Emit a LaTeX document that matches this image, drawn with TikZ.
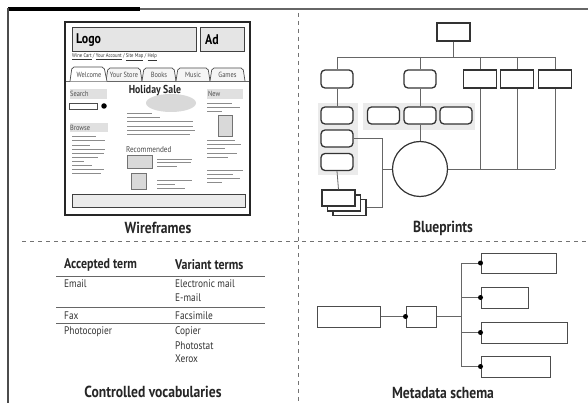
\documentclass[tikz,border=0pt]{standalone}
\usepackage{fontspec}
\setmainfont{PT Sans}[FakeStretch=0.85]
\begin{document}
\begin{tikzpicture}[x=1pt,y=-1pt,
  frame/.style={draw=black!70, line width=1.6pt},
  divider/.style={draw=black!55, line width=0.9pt, dash pattern=on 4pt off 4pt},
  conn/.style={draw=black!60, line width=0.8pt},
  bpbox/.style={draw=black!80, line width=1.3pt, fill=white, rectangle, inner sep=0pt},
  rbox/.style={bpbox, rounded corners=4pt},
  mbox/.style={draw=black!70, line width=1pt, fill=white, rectangle, inner sep=0pt},
  dot/.style={circle, fill=black, inner sep=0pt, minimum size=5pt},
  title/.style={font=\bfseries\fontsize{16}{18}\selectfont, text=black!85},
  wline/.style={draw=black!45, line width=0.7pt},
  wgray/.style={fill=black!12},
  wlabel/.style={font=\fontsize{7.5}{8}\selectfont, text=black!70, anchor=west, inner sep=0pt},
  vtext/.style={font=\fontsize{11}{12}\selectfont, text=black!80, anchor=west, inner sep=0pt},
  vhead/.style={font=\bfseries\fontsize{14}{16}\selectfont, text=black!85, anchor=west, inner sep=0pt}
]
\useasboundingbox (0,0) rectangle (588,403);
\fill[white] (0,0) rectangle (588,403);
% frame
\draw[draw=black!60, line width=1.4pt] (140,9) -- (588,9);
\draw[draw=black, line width=3.5pt] (8,9) -- (140,9);
\draw[frame] (8,8) -- (8,403);
% dividers
\draw[divider] (298,13) -- (298,403);
\draw[divider] (22,241) -- (588,241);

% ===== Wireframe =====
\draw[draw=black!85, line width=1.8pt, fill=white] (65,22) rectangle (250,215);
\draw[draw=black!75, line width=1pt, fill=black!10] (72,28) rectangle (196,52);
\draw[draw=black!75, line width=1pt, fill=black!10] (200,28) rectangle (244,52);
\node[font=\bfseries\fontsize{14}{16}\selectfont, anchor=west, inner sep=0pt] (logo) at (76,40) {Logo};
\node[font=\bfseries\fontsize{14}{16}\selectfont, anchor=west, inner sep=0pt] (ad) at (205,40) {Ad};
\node[font=\fontsize{5.5}{6}\selectfont, anchor=west, inner sep=0pt, text=black!80] (links) at (72,57) {\underline{Wine Cart} / \underline{Your Account} / \underline{Site Map} / \underline{Help}};
% tabs
\draw[draw=black!60, line width=0.7pt] (66,81) -- (249,81);
\foreach \a/\b/\t in {106/142/Your Store,142/176/Books,176/210/Music,210/245/Games}{
  \draw[draw=black!70, line width=0.7pt, fill=black!4, rounded corners=2pt] (\a,81) -- (\a+2,68) -- (\b-2,68) -- (\b,81);
  \node[font=\fontsize{7.5}{8}\selectfont, text=black!70] at ({(\a+\b)/2},74.5) {\t};
}
\draw[draw=black!70, line width=0.7pt, fill=white, rounded corners=2pt] (70,81.3) -- (72,67) -- (104,67) -- (107,81.3);
\node[font=\fontsize{7.5}{8}\selectfont, text=black!70] (welcome) at (89,74.5) {Welcome};
% left column
\fill[wgray] (70,89) rectangle (107,99);
\node[wlabel] (search) at (70,94) {Search};
\draw[draw=black!70, line width=0.7pt] (69,103) rectangle (97,109);
\node[dot, minimum size=5.5pt] (sdot) at (104,106) {};
\fill[wgray] (70,123) rectangle (108,132);
\node[wlabel] (browse) at (70,127.5) {Browse};
\foreach \y/\e in {136/96,140/105,145/90,149/105,153/104,157/98,161/84,165/92,169/104,173/101}{
  \draw[wline] (72,\y) -- (\e,\y);
}
% center column
\fill[black!15] (171,103) ellipse (25 and 9);
\node[font=\bfseries\fontsize{11.5}{13}\selectfont, text=black!85] (sale) at (155,91) {Holiday Sale};
\foreach \y/\e in {113/152,117/160,121/193,126/193,130/195,134/190}{
  \draw[wline] (127,\y) -- (\e,\y);
}
\node[wlabel, font=\fontsize{8.5}{9}\selectfont] (rec) at (126,150) {Recommended};
\draw[draw=black!55, line width=0.7pt, fill=black!15] (127,155) rectangle (152,168);
\draw[draw=black!55, line width=0.7pt, fill=black!15] (131,173) rectangle (146,189);
\foreach \y/\e in {159/192,162/191,166/177,180/192,184/175,188/185}{
  \draw[wline] (157,\y) -- (\e,\y);
}
% right column
\fill[wgray] (207,89) rectangle (243,99);
\node[wlabel] (new) at (208,94) {New};
\foreach \y/\e in {103/232,107/240,111/222,140/235,144/241,148/225,153/237,157/228,170/243,174/233,178/240,182/222}{
  \draw[wline] (207,\y) -- (\e,\y);
}
\draw[draw=black!55, line width=0.7pt, fill=black!15] (218,115) rectangle (232,136);
% bottom bar
\draw[draw=black!75, line width=1pt, fill=black!8] (72,195) rectangle (245,208);
\node[title] (wtitle) at (158,228) {Wireframes};

% ===== Blueprints =====
\fill[black!8] (318,103) rectangle (358,175);
\fill[black!8] (363,103) rectangle (475,130);
\node[bpbox, minimum width=33pt, minimum height=18pt] (top) at (453.5,32) {};
\coordinate (busL) at (337,57);
\coordinate (busR) at (555,57);
\node[rbox, minimum width=32pt, minimum height=18pt] (rb1) at (337,79) {};
\node[rbox, minimum width=32pt, minimum height=18pt] (rb2) at (420,79) {};
\node[bpbox, minimum width=33pt, minimum height=18pt] (r3) at (480,79) {};
\node[bpbox, minimum width=33pt, minimum height=18pt] (r4) at (517,79) {};
\node[bpbox, minimum width=33pt, minimum height=18pt] (r5) at (555,79) {};
\node[rbox, minimum width=32pt, minimum height=17pt] (c1) at (337,115.5) {};
\node[rbox, minimum width=32pt, minimum height=17pt] (c2) at (337,138.5) {};
\node[rbox, minimum width=32pt, minimum height=17pt] (c3) at (337,162) {};
\node[rbox, minimum width=32pt, minimum height=17pt] (m1) at (383.5,115.5) {};
\node[rbox, minimum width=32pt, minimum height=17pt] (m2) at (420,115.5) {};
\node[rbox, minimum width=32pt, minimum height=17pt] (m3) at (456,115.5) {};
\node[circle, draw=black!80, line width=1.2pt, fill=white, minimum size=55pt, inner sep=0pt] (circ) at (420,169) {};
\node[bpbox, line width=1.1pt, minimum width=33pt, minimum height=16pt] (d3) at (349.5,207.5) {};
\node[bpbox, line width=1.1pt, minimum width=33pt, minimum height=16pt] (d2) at (344,203) {};
\node[bpbox, line width=1.1pt, minimum width=33pt, minimum height=16pt] (d1) at (338.5,198) {};
\draw[conn] (top.south) -- (top.south |- busL);
\draw[conn] (busL) -- (busR);
\draw[conn] (busL) -- (rb1.north);
\draw[conn] (rb2.north |- busL) -- (rb2.north);
\draw[conn] (r3.north |- busL) -- (r3.north);
\draw[conn] (r4.north |- busL) -- (r4.north);
\draw[conn] (r5.north |- busL) -- (r5.north);
\draw[conn] (rb1.south) -- (c1.north);
\draw[conn] (c3.south) -- (d1.north);
\draw[conn] (rb2.south) -- (m2.north);
\draw[conn] (m2.south) -- (circ.north);
\draw[conn] (circ.east) -- (r5.south |- circ.east);
\draw[conn] (r3.south) -- (r3.south |- circ.east);
\draw[conn] (r4.south) -- (r4.south |- circ.east);
\draw[conn] (r5.south) -- (r5.south |- circ.east);
\coordinate (jx) at (382,139);
\draw[conn] (c2.east) -- (c2.east -| jx) -- (jx |- d3.east) -- (d3.east);
\draw[conn] (jx |- circ.west) -- (circ.west);
\node[title] (btitle) at (443,228) {Blueprints};

% ===== Controlled vocabularies =====
\node[vhead] (h1) at (64,265) {Accepted term};
\node[vhead] (h2) at (175,265) {Variant terms};
\draw[draw=black!60, line width=0.8pt] (56,276) -- (265,276);
\node[vtext] (e1) at (64,283.5) {Email};
\node[vtext] (e2) at (175,283.5) {Electronic mail};
\node[vtext] (e3) at (175,298) {E-mail};
\draw[draw=black!60, line width=0.8pt] (56,307) -- (265,307);
\node[vtext] (f1) at (64,316) {Fax};
\node[vtext] (f2) at (175,316) {Facsimile};
\draw[draw=black!60, line width=0.8pt] (56,323.5) -- (265,323.5);
\node[vtext] (p1) at (64,332) {Photocopier};
\node[vtext] (p2) at (175,332) {Copier};
\node[vtext] (p3) at (175,345.5) {Photostat};
\node[vtext] (p4) at (175,359) {Xerox};
\node[title] (ctitle) at (153,392) {Controlled vocabularies};

% ===== Metadata schema =====
\node[mbox, minimum width=63pt, minimum height=21pt] (ml) at (348.5,316.5) {};
\node[mbox, minimum width=30pt, minimum height=21pt] (ms) at (421,316.5) {};
\node[mbox, minimum width=75pt, minimum height=20pt] (b1) at (518.5,263) {};
\node[mbox, minimum width=47pt, minimum height=21pt] (b2) at (504.5,297.5) {};
\node[mbox, minimum width=86pt, minimum height=21pt] (b3) at (524,332.5) {};
\node[mbox, minimum width=69pt, minimum height=21pt] (b4) at (515.5,366.5) {};
\coordinate (mv) at (461,316.5);
\draw[conn] (ml.east) -- (ms.west);
\draw[conn] (ms.east) -- (mv);
\draw[conn] (mv |- b1.west) -- (mv |- b4.west);
\draw[conn] (mv |- b1.west) -- (b1.west);
\draw[conn] (mv |- b2.west) -- (b2.west);
\draw[conn] (mv |- b3.west) -- (b3.west);
\draw[conn] (mv |- b4.west) -- (b4.west);
\node[dot] at (ms.west) {};
\node[dot] at (b1.west) {};
\node[dot] at (b2.west) {};
\node[dot] at (b3.west) {};
\node[dot] at (b4.west) {};
\node[title] (mtitle) at (443,393) {Metadata schema};
\end{tikzpicture}
\end{document}
